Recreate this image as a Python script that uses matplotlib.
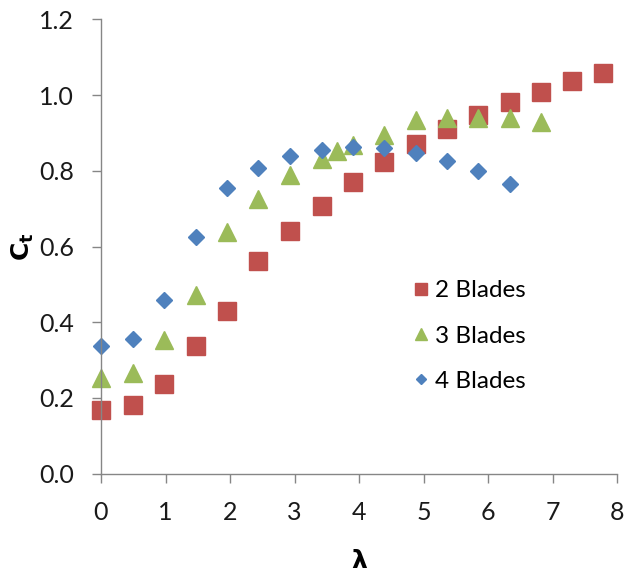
import matplotlib
matplotlib.use("Agg")
import matplotlib.pyplot as plt

# tip speed ratio (lambda) and power/torque coefficient
tsr_2 = [0, 0.49, 0.98, 1.47, 1.96, 2.44, 2.93, 3.42, 3.9, 4.39, 4.88, 5.37, 5.85, 6.34, 6.82, 7.31, 7.79]
ct_2 = [0.168, 0.181, 0.237, 0.336, 0.430, 0.562, 0.642, 0.708, 0.770, 0.824, 0.871, 0.911, 0.946, 0.982, 1.009, 1.037, 1.059]

tsr_3 = [0, 0.49, 0.98, 1.47, 1.96, 2.44, 2.93, 3.42, 3.66, 3.9, 4.39, 4.88, 5.37, 5.85, 6.34, 6.82]
ct_3 = [0.252, 0.267, 0.353, 0.472, 0.637, 0.725, 0.789, 0.831, 0.853, 0.868, 0.895, 0.933, 0.939, 0.939, 0.939, 0.930]

tsr_4 = [0, 0.49, 0.98, 1.47, 1.96, 2.44, 2.93, 3.42, 3.9, 4.39, 4.88, 5.37, 5.85, 6.34]
ct_4 = [0.337, 0.356, 0.459, 0.626, 0.754, 0.808, 0.839, 0.855, 0.864, 0.860, 0.846, 0.827, 0.800, 0.765]

labels = ["2 Blades", "3 Blades", "4 Blades"]
xticks = [0, 1, 2, 3, 4, 5, 6, 7, 8]
yticks = [0.0, 0.2, 0.4, 0.6, 0.8, 1.0, 1.2]

plt.rcParams['font.family'] = ['Lato', 'DejaVu Sans']

fig = plt.figure(figsize=(6.25, 5.74), dpi=100)
ax = fig.add_axes([0.1616, 0.1747, 0.8256, 0.7917])

ax.plot(tsr_2, ct_2, linestyle="none", marker="s", ms=12.5, color="#C0504D", label=labels[0])
ax.plot(tsr_3, ct_3, linestyle="none", marker="^", ms=12.5, color="#9BBB59", label=labels[1])
ax.plot(tsr_4, ct_4, linestyle="none", marker="D", ms=8.5, color="#4F81BD", label=labels[2])

ax.set_xlim(0, 8)
ax.set_ylim(0, 1.2)
ax.set_xticks(xticks)
ax.set_yticks(yticks)
ax.set_xticklabels([str(v) for v in xticks])
ax.set_yticklabels(["%.1f" % v for v in yticks])

for s in ["top", "right"]:
    ax.spines[s].set_visible(False)
for s in ["left", "bottom"]:
    ax.spines[s].set_color("#868686")
    ax.spines[s].set_linewidth(1.0)
ax.tick_params(axis="both", direction="out", length=6.5, width=1.0, color="#868686",
               labelsize=18, pad=13, labelcolor="#1a1a1a")
for ln in ax.lines:
    ln.set_clip_on(False)

ax.set_xlabel("λ", fontsize=18, fontweight="bold", family="DejaVu Sans")
ax.xaxis.set_label_coords(0.5, -0.165)
ax.set_ylabel(r"$\mathbf{C_t}$", fontsize=18)
ax.yaxis.set_label_coords(-0.125, 0.5)

leg = ax.legend(loc="upper left", bbox_to_anchor=(0.575, 0.447), frameon=False,
                fontsize=17.5, handletextpad=0.05, labelspacing=1.0, markerscale=0.65,
                handlelength=1.1, borderaxespad=0)

fig.savefig("out.png", dpi=100)
